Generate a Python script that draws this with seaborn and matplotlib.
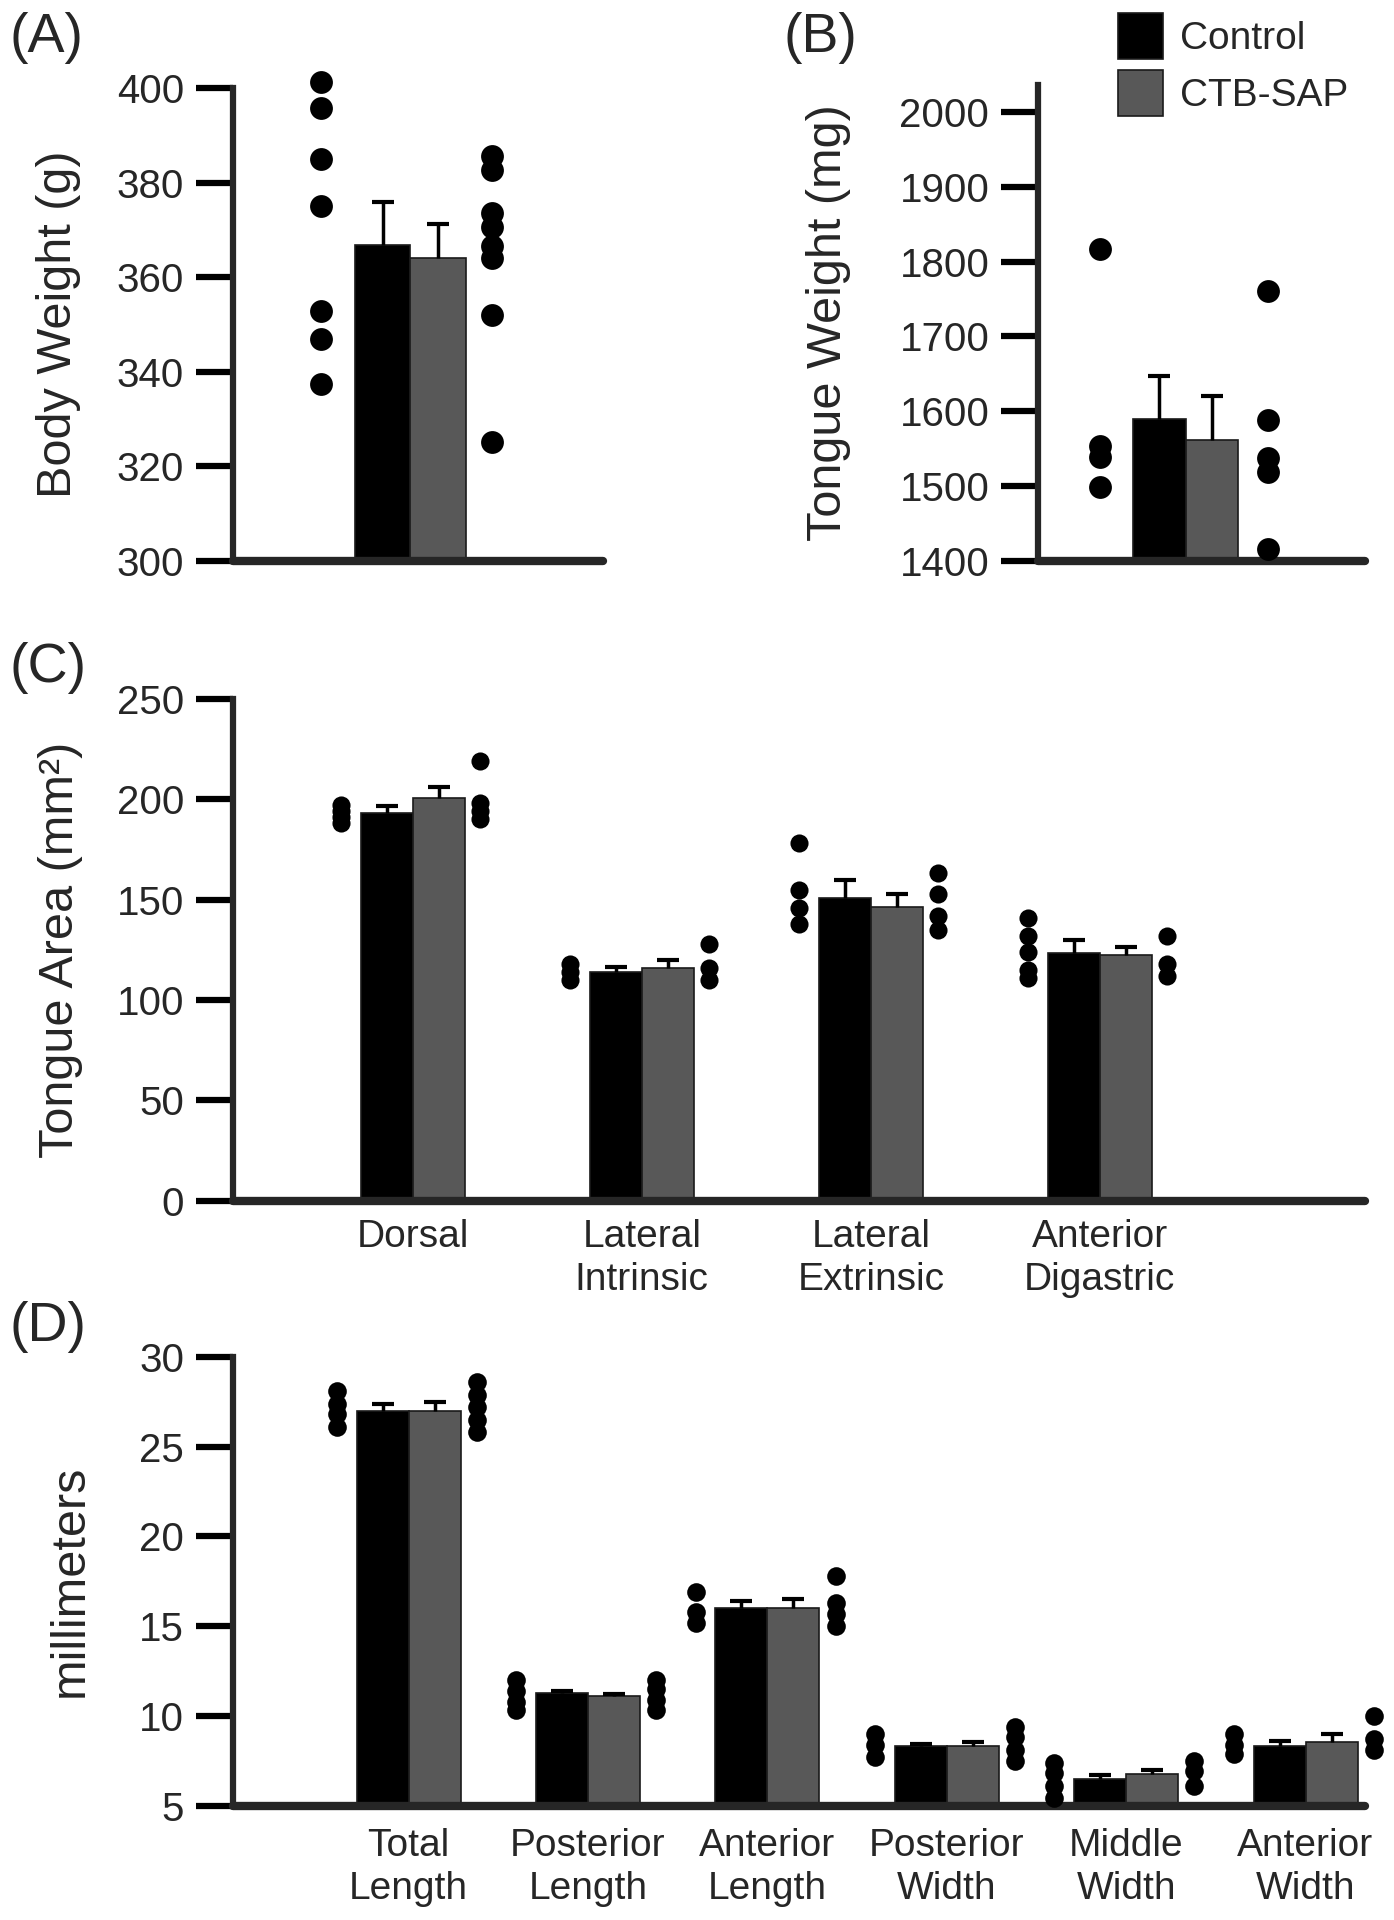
import numpy as np
import pandas as pd
import seaborn as sns
import matplotlib.pyplot as plt
from matplotlib.patches import Patch

groups = ["Control", "CTB-SAP"]
colors = {"Control": "#000000", "CTB-SAP": "#585858"}

# (A) body weight, g
bw_ctrl_mean = [366.9]
bw_ctrl_sem = [9.0]
bw_ctb_mean = [364.1]
bw_ctb_sem = [7.2]
bw_ctrl_pts = [[401.3, 395.8, 385.1, 375.1, 352.8, 346.9, 337.3]]
bw_ctb_pts = [[385.6, 382.8, 373.5, 370.6, 366.6, 364.0, 352.1, 325.2]]

# (B) tongue weight, mg
tw_ctrl_mean = [1590]
tw_ctrl_sem = [57]
tw_ctb_mean = [1561]
tw_ctb_sem = [59]
tw_ctrl_pts = [[1817, 1553, 1538, 1499]]
tw_ctb_pts = [[1761, 1588, 1537, 1519, 1415]]

# (C) tongue area, mm2
area_cats = ["Dorsal", "Lateral\nIntrinsic", "Lateral\nExtrinsic", "Anterior\nDigastric"]
area_ctrl_mean = [193.3, 113.7, 151.0, 123.6]
area_ctrl_sem = [3.2, 2.8, 8.6, 6.4]
area_ctb_mean = [200.5, 115.8, 146.4, 122.6]
area_ctb_sem = [5.5, 4.2, 6.3, 3.8]
area_ctrl_pts = [[197, 194, 191, 188], [118, 114, 110], [178, 155, 146, 138], [141, 132, 124, 115, 111]]
area_ctb_pts = [[219, 198, 194, 190], [128, 116, 110], [163, 153, 142, 135], [132, 118, 112]]

# (D) dimensions, mm
mm_cats = ["Total\nLength", "Posterior\nLength", "Anterior\nLength",
           "Posterior\nWidth", "Middle\nWidth", "Anterior\nWidth"]
mm_ctrl_mean = [27.0, 11.25, 16.0, 8.3, 6.5, 8.3]
mm_ctrl_sem = [0.4, 0.15, 0.4, 0.15, 0.2, 0.3]
mm_ctb_mean = [27.0, 11.1, 16.0, 8.3, 6.75, 8.55]
mm_ctb_sem = [0.5, 0.1, 0.5, 0.25, 0.22, 0.45]
mm_ctrl_pts = [[28.1, 27.4, 26.8, 26.1], [12.0, 11.4, 10.8, 10.3], [16.9, 15.8, 15.2],
               [9.0, 8.4, 7.7], [7.4, 6.8, 6.1, 5.4], [9.0, 8.4, 7.9]]
mm_ctb_pts = [[28.6, 27.9, 27.2, 26.5, 25.8], [12.0, 11.5, 10.9, 10.3], [17.8, 16.3, 15.7, 15.0],
              [9.4, 8.8, 8.1, 7.5], [7.5, 6.9, 6.1], [10.0, 8.7, 8.1]]

sns.set_style("ticks")
plt.rcParams['font.family'] = ['Liberation Sans', 'DejaVu Sans']


def draw(ax, cats, ctrl_mean, ctrl_sem, ctb_mean, ctb_sem, ctrl_pts, ctb_pts,
         width, dot_off, dot_size, xpad=12):
    half = width / 4
    rows = []
    for i in range(len(cats)):
        rows.append((i - half, "Control", ctrl_mean[i], ctrl_sem[i]))
        rows.append((i + half, "CTB-SAP", ctb_mean[i], ctb_sem[i]))
    bars = pd.DataFrame(rows, columns=["x", "group", "mean", "sem"])

    sns.barplot(data=bars, x="x", y="mean", hue="group", hue_order=groups,
                palette=colors, native_scale=True, dodge=False, width=1.0,
                saturation=1, errorbar=None, edgecolor="#1a1a1a", linewidth=1.2,
                legend=False, ax=ax, zorder=2)

    # one-sided SEM bars
    _, caps, _ = ax.errorbar(bars["x"], bars["mean"],
                             yerr=[np.zeros(len(bars)), bars["sem"]],
                             fmt="none", ecolor="black", elinewidth=2.5,
                             capsize=8, capthick=3, zorder=3)
    for cl in caps:
        if np.allclose(cl.get_ydata(), bars["mean"]):
            cl.set_visible(False)

    pts = []
    for i in range(len(cats)):
        for v in ctrl_pts[i]:
            pts.append((i - dot_off[0], v))
        for v in ctb_pts[i]:
            pts.append((i + dot_off[1], v))
    pts = pd.DataFrame(pts, columns=["x", "y"])
    sns.scatterplot(data=pts, x="x", y="y", color="black", s=dot_size,
                    linewidth=0, ax=ax, zorder=4, clip_on=False, legend=False)

    sns.despine(ax=ax)
    ax.spines["left"].set_linewidth(4.5)
    ax.spines["bottom"].set_linewidth(6)
    ax.spines["bottom"].set_capstyle("round")
    ax.tick_params(axis="y", length=27, width=4.5, labelsize=29, pad=8, color="black")
    ax.tick_params(axis="x", length=0, labelsize=28, pad=xpad)
    ax.set_xticks(range(len(cats)))
    ax.set_xticklabels(cats, linespacing=1.24)
    ax.set_xlabel("")


fig = plt.figure(figsize=(13.94, 19.2), dpi=100)
axA = fig.add_axes([0.167, 0.708, 0.2656, 0.246])
axB = fig.add_axes([0.7446, 0.708, 0.2346, 0.2477])
axC = fig.add_axes([0.167, 0.3747, 0.812, 0.2613])
axD = fig.add_axes([0.167, 0.0596, 0.812, 0.2336])

draw(axA, [""], bw_ctrl_mean, bw_ctrl_sem, bw_ctb_mean, bw_ctb_sem,
     bw_ctrl_pts, bw_ctb_pts, 0.8, (0.64, 0.59), 270)
axA.set_xlim(-1.277, 1.385)
axA.set_ylim(300, 400)
axA.set_yticks(range(300, 401, 20))
axA.set_ylabel("Body Weight (g)", fontsize=35)
axA.yaxis.set_label_coords(-0.41, 0.5)

draw(axB, [""], tw_ctrl_mean, tw_ctrl_sem, tw_ctb_mean, tw_ctb_sem,
     tw_ctrl_pts, tw_ctb_pts, 0.8, (0.65, 0.63), 270)
axB.set_xlim(-1.126, 1.37)
axB.set_ylim(1400, 2036)
axB.set_yticks(range(1400, 2001, 100))
axB.set_ylabel("Tongue Weight (mg)", fontsize=35)
axB.yaxis.set_label_coords(-0.572, 0.5)

draw(axC, area_cats, area_ctrl_mean, area_ctrl_sem, area_ctb_mean, area_ctb_sem,
     area_ctrl_pts, area_ctb_pts, 0.454, (0.314, 0.293), 170, xpad=13.5)
axC.set_xlim(-0.786, 4.157)
axC.set_ylim(0, 250)
axC.set_yticks(range(0, 251, 50))
axC.set_ylabel("Tongue Area (mm²)", fontsize=35)
axC.yaxis.set_label_coords(-0.132, 0.5)

draw(axD, mm_cats, mm_ctrl_mean, mm_ctrl_sem, mm_ctb_mean, mm_ctb_sem,
     mm_ctrl_pts, mm_ctb_pts, 0.58, (0.40, 0.38), 180, xpad=16)
axD.set_xlim(-0.98, 5.33)
axD.set_ylim(5, 30)
axD.set_yticks(range(5, 31, 5))
axD.set_ylabel("millimeters", fontsize=35)
axD.yaxis.set_label_coords(-0.124, 0.5)

for txt, x, y in [("(A)", 0.007, 0.980), ("(B)", 0.562, 0.980),
                  ("(C)", 0.007, 0.652), ("(D)", 0.007, 0.309)]:
    fig.text(x, y, txt, fontsize=40, va="center", ha="left")

handles = [Patch(facecolor=colors[g], edgecolor="#1a1a1a", linewidth=1.2) for g in groups]
fig.legend(handles, groups, loc="upper left", bbox_to_anchor=(0.802, 0.9932),
           frameon=False, fontsize=28, handlelength=1.15, handleheight=1.45,
           handletextpad=0.45, labelspacing=0.28, borderpad=0, borderaxespad=0)

fig.savefig("out.png", dpi=100)
